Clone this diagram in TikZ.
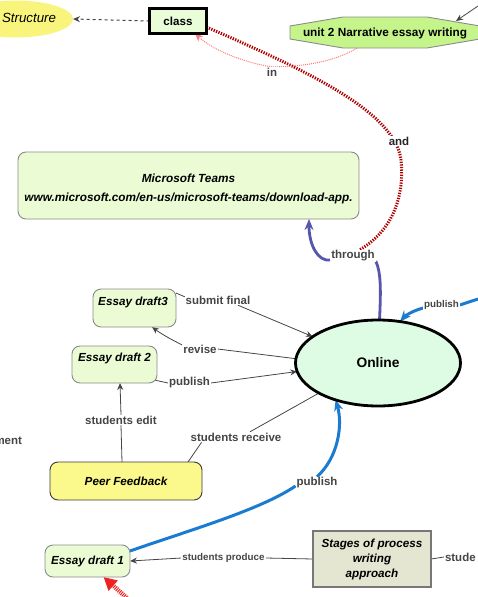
\documentclass[tikz,border=0pt]{standalone}
\usepackage{fontspec}
\setmainfont{Liberation Sans}
\usetikzlibrary{arrows.meta,shapes.geometric,calc,backgrounds}
\definecolor{lbl}{HTML}{454545}
\definecolor{draftfill}{HTML}{EBFCD5}
\definecolor{boxgray}{HTML}{8A8A8A}
\definecolor{pffill}{HTML}{FBF98C}
\definecolor{pfdraw}{HTML}{3A3A3A}
\definecolor{clsfill}{HTML}{E8FDD8}
\definecolor{octfill}{HTML}{C5F58A}
\definecolor{octdraw}{HTML}{8A8A8A}
\definecolor{onfill}{HTML}{DEFCE3}
\definecolor{stfill}{HTML}{E5E6D2}
\definecolor{stdraw}{HTML}{777777}
\definecolor{strfill}{HTML}{F8F47C}
\definecolor{bluec}{HTML}{1B7BD0}
\definecolor{purpc}{HTML}{5656AE}
\definecolor{dredc}{HTML}{B00000}
\definecolor{lredc}{HTML}{FF7A7A}
\definecolor{bigredc}{HTML}{EE2222}
\begin{document}
\begin{tikzpicture}[x=1pt,y=-1pt,
 every node/.style={inner sep=0pt, outer sep=0pt},
 lab/.style={fill=white, text=lbl, inner sep=1pt, font=\fontsize{11.5}{13}\selectfont\bfseries},
 slab/.style={lab, font=\fontsize{9.8}{11}\selectfont\bfseries},
 rbox/.style={draw=boxgray, line width=0.9pt, rounded corners=8pt, fill=draftfill},
 btext/.style={font=\fontsize{11.7}{14}\selectfont\bfseries\itshape, text=black},
 thinc/.style={draw=lbl, line width=0.8pt},
 gtip/.style={-{Stealth[length=7pt,width=6pt]}},
 reddot/.style={draw=dredc, line width=3pt, dash pattern=on 1.3pt off 1.3pt},
 lredline/.style={draw=lredc, line width=1pt, dash pattern=on 1pt off 1pt},
 rtip/.style={-{Stealth[length=8pt,width=7pt]}},
 purpline/.style={draw=purpc, line width=2.8pt},
 blueline/.style={draw=bluec, line width=3pt},
 btip/.style={-{Stealth[length=11pt,width=9pt]}},
 bigred/.style={draw=bigredc, line width=4.5pt, dash pattern=on 1pt off 1pt, -{Triangle[length=13pt,width=13pt]}}
]
\useasboundingbox (0,0) rectangle (477,597);

% concepts
\node[ellipse, fill=strfill, minimum width=116pt, minimum height=37pt] (str) at (15,19) {};
\node[font=\fontsize{13.3}{15}\selectfont\itshape] (strt) at (29,18) {Structure};
\node[draw=black, line width=3pt, fill=clsfill, minimum width=57pt, minimum height=25pt, font=\fontsize{11.6}{14}\selectfont\bfseries] (cls) at (178,21) {class};

\draw[draw=octdraw, fill=octfill, line width=0.9pt] (290,26) -- (343,17) -- (427,17) -- (480,26) -- (480,39) -- (427,48) -- (343,48) -- (290,39) -- cycle;
\node[font=\fontsize{11.8}{14}\selectfont\bfseries] (u2) at (385,33) {unit 2 Narrative essay writing};
\coordinate (u2b) at (357,48);
\coordinate (u2t) at (456,21);
\coordinate (trc) at (478,6);

\node[rbox, minimum width=341pt, minimum height=67pt] (ms) at (188.5,185.5) {};
\node[align=center, font=\fontsize{11.8}{19}\selectfont\bfseries\itshape] (mst) at (188.5,188.5) {Microsoft Teams\\www.microsoft.com/en-us/microsoft-teams/download-app.};

\node[ellipse, draw=black, line width=2.8pt, fill=onfill, minimum width=165pt, minimum height=86pt, font=\fontsize{13.8}{16}\selectfont\bfseries] (on) at (378,363) {Online};

\node[rbox, minimum width=83pt, minimum height=38pt] (d3) at (134.5,308) {};
\node[btext] (d3t) at (133,302.5) {Essay draft3};
\node[rbox, minimum width=85pt, minimum height=37pt] (d2) at (114.5,364.5) {};
\node[btext] (d2t) at (114.5,358) {Essay draft 2};
\node[rbox, minimum width=85pt, minimum height=32pt, btext] (d1) at (87.5,561) {Essay draft 1};
\node[rbox, draw=pfdraw, fill=pffill, minimum width=152pt, minimum height=38pt, btext] (pf) at (126,481) {Peer Feedback};
\node[draw=stdraw, line width=2pt, fill=stfill, minimum width=118pt, minimum height=56pt, align=center, font=\fontsize{11.7}{15}\selectfont\bfseries\itshape] (st) at (372,559) {Stages of process\\writing\\approach};
\coordinate (pubR) at (478,299);
\coordinate (rb) at (128,599);

% linking phrases
\node[lab] (in) at (272,72) {in};
\node[lab, text=black!85] (and) at (399,141) {and};
\node[lab] (thr) at (353,256) {through};
\node[slab] (pub1) at (441.5,305) {publish};
\node[lab] (sf) at (218,300) {submit final};
\node[lab] (rev) at (200,349) {revise};
\node[lab] (pub2) at (189.5,383) {publish};
\node[lab] (sedit) at (121,420) {students edit};
\node[lab] (srec) at (236,437) {students receive};
\node[lab] (pub3) at (317,483) {publish};
\node[slab] (sprod) at (223.5,558) {students produce};
\node[lab, anchor=west] (stude) at (444,557) {stude};
\node[lab, anchor=east] (ment) at (23,441) {ment};

\begin{scope}[on background layer]
\draw[dashed, draw=lbl, line width=1pt, gtip] (cls.west) -- (str.east);
\draw[reddot] ($(cls.east)+(0,6)$) .. controls (300,68) and (395,110) .. (401,160) .. controls (405,200) and (390,232) .. ($(thr.north)+(7,0)$);
\draw[lredline] (u2b) .. controls (335,62) and (300,67) .. (in.north);
\draw[lredline, rtip] (in.north) .. controls (250,64) and (215,52) .. ($(cls.south)+(17,0)$);
\draw[thinc, gtip] (trc) -- (u2t);

\draw[purpline, btip] ($(thr.west)+(0,4)$) .. controls (318,262) and (309,245) .. ($(ms.south)+(120.5,0)$);
\draw[purpline] (on.88) .. controls (381,290) and (381,272) .. ($(thr.east)+(0,5)$);

\draw[blueline] (pubR) -- (pub1.east);
\draw[blueline, btip] ($(pub1.west)+(0,3)$) .. controls (412,311) and (405,316) .. (on.62);

\draw[thinc] ($(d3.north east)+(0,4)$) -- ($(sf.north west)+(0,2)$);
\draw[thinc, gtip] ($(sf.south)+(20,0)$) -- (on.158);
\draw[thinc] (on.177) -- (rev.east);
\draw[thinc, gtip] ($(rev.west)+(0,-4)$) .. controls (170,339) and (160,333) .. ($(d3.south)+(17.5,0)$);
\draw[thinc] ($(d2.south east)+(-12,-5)$) -- (pub2.west);
\draw[thinc, gtip] (pub2.east) -- (on.186);
\draw[thinc] ($(pf.north)+(-4,0)$) -- (sedit.south);
\draw[thinc, gtip] (sedit.north) -- ($(d2.south)+(5.5,0)$);
\draw[thinc] (on.207) -- ($(srec.north)+(14,0)$);
\draw[thinc] ($(srec.south west)+(12,0)$) -- ($(pf.north east)+(-14,0)$);
\draw[thinc] (st.west) -- (sprod.east);
\draw[thinc, gtip] (sprod.west) -- (d1.east);
\draw[thinc] (st.east) -- (stude.west);

\draw[blueline] ($(d1.east)+(0,-10)$) .. controls (190,530) and (260,510) .. ($(pub3.west)+(0,3)$);
\draw[blueline, btip] (pub3.north) .. controls (338,458) and (343,425) .. (on.221);

\draw[bigred] (rb) -- ($(d1.south)+(16,0)$);
\end{scope}
\end{tikzpicture}
\end{document}
